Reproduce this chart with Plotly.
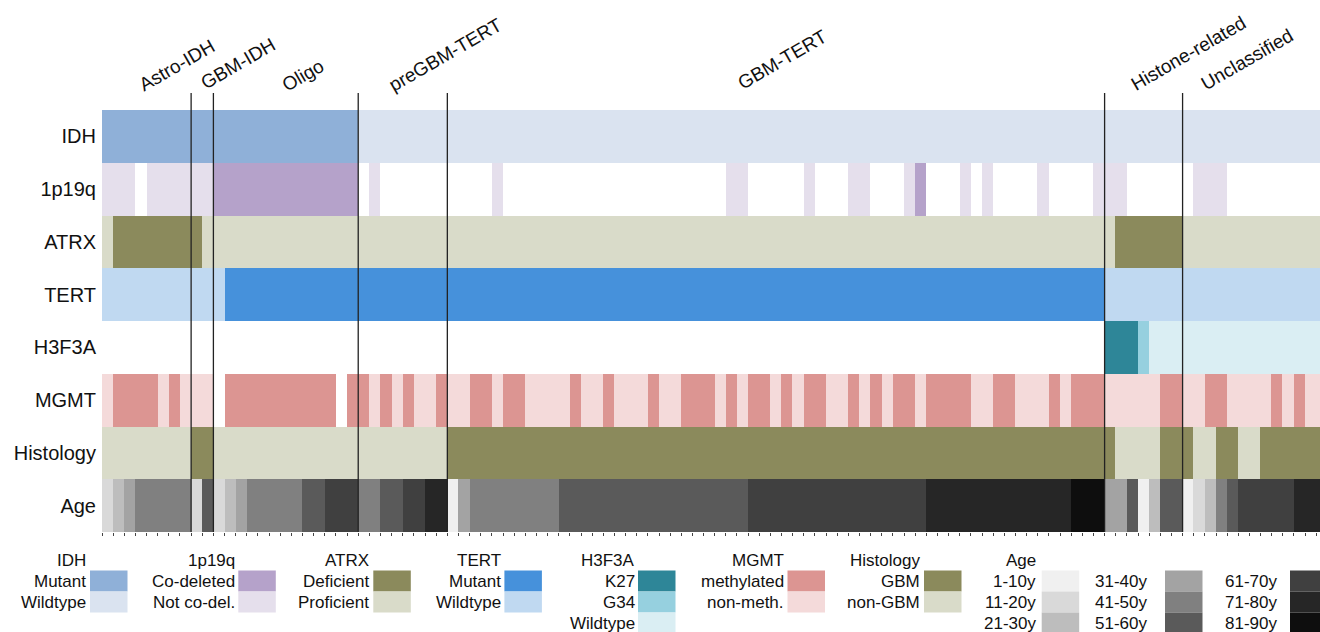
import plotly.graph_objects as go

# ---------------- data ----------------
row_names = ["IDH", "1p19q", "ATRX", "TERT", "H3F3A", "MGMT", "Histology", "Age"]

group_names = ["Astro-IDH", "GBM-IDH", "Oligo", "preGBM-TERT", "GBM-TERT",
               "Histone-related", "Unclassified"]
group_sizes = [8, 2, 13, 8, 59, 7, 13]

# per-row categories, colours and run-length encoded sample states ("_" = no data)
idh_levels = ["Mutant", "Wildtype"]
idh_keys = ["M", "W"]
idh_colors = ["#8FB0D8", "#DAE3F0"]
idh_runs = [("M", 23), ("W", 87)]

codel_levels = ["Co-deleted", "Not co-del."]
codel_keys = ["C", "N"]
codel_colors = ["#B5A2CA", "#E5DFEC"]
codel_runs = [("N", 3), ("_", 1), ("N", 6), ("C", 13), ("_", 1), ("N", 1), ("_", 10),
              ("N", 1), ("_", 20), ("N", 2), ("_", 5), ("N", 1), ("_", 3), ("N", 2),
              ("_", 3), ("N", 1), ("C", 1), ("_", 3), ("N", 1), ("_", 1), ("N", 1),
              ("_", 4), ("N", 1), ("_", 4), ("N", 3), ("_", 6), ("N", 3), ("_", 9)]

atrx_levels = ["Deficient", "Proficient"]
atrx_keys = ["D", "P"]
atrx_colors = ["#8B8A5C", "#D9DBC9"]
atrx_runs = [("P", 1), ("D", 8), ("P", 82), ("D", 6), ("P", 13)]

tert_levels = ["Mutant", "Wildtype"]
tert_keys = ["M", "W"]
tert_colors = ["#4691DB", "#C0D9F1"]
tert_runs = [("W", 11), ("M", 79), ("W", 20)]

h3_levels = ["K27", "G34", "Wildtype"]
h3_keys = ["K", "G", "W"]
h3_colors = ["#2E8698", "#96D0DF", "#DAEEF3"]
h3_runs = [("_", 90), ("K", 3), ("G", 1), ("W", 16)]

mgmt_levels = ["methylated", "non-meth."]
mgmt_keys = ["M", "U"]
mgmt_colors = ["#DC9592", "#F4DADA"]
mgmt_runs = [("U", 1), ("M", 4), ("U", 1), ("M", 1), ("U", 3), ("_", 1), ("M", 10), ("_", 1),
             ("M", 2), ("U", 1), ("M", 1), ("U", 1), ("M", 1), ("U", 2), ("M", 1), ("U", 2),
             ("M", 2), ("U", 1), ("M", 2), ("U", 4), ("M", 1), ("U", 2), ("M", 1), ("U", 3),
             ("M", 1), ("U", 2), ("M", 3), ("U", 1), ("M", 1), ("U", 1), ("M", 2), ("U", 1),
             ("M", 1), ("U", 1), ("M", 2), ("U", 2), ("M", 1), ("U", 1), ("M", 1), ("U", 1),
             ("M", 2), ("U", 1), ("M", 4), ("U", 2), ("M", 2), ("U", 3), ("M", 1), ("U", 1),
             ("M", 3), ("U", 5), ("M", 2), ("U", 2), ("M", 2), ("U", 4), ("M", 1), ("U", 1),
             ("M", 1), ("U", 2)]

hist_levels = ["GBM", "non-GBM"]
hist_keys = ["G", "N"]
hist_colors = ["#8B8A5C", "#D9DBC9"]
hist_runs = [("N", 8), ("G", 2), ("N", 21), ("G", 60), ("N", 4), ("G", 3), ("N", 2),
             ("G", 2), ("N", 2), ("G", 6)]

age_levels = ["1-10y", "11-20y", "21-30y", "31-40y", "41-50y", "51-60y",
              "61-70y", "71-80y", "81-90y"]
age_keys = ["1", "2", "3", "4", "5", "6", "7", "8", "9"]
age_colors = ["#F0F0F0", "#D9D9D9", "#BDBDBD", "#A3A3A3", "#808080", "#5A5A5A",
              "#404040", "#262626", "#0E0E0E"]
age_runs = [("2", 1), ("3", 1), ("4", 1), ("5", 5), ("2", 1), ("6", 1), ("2", 1), ("3", 1),
            ("4", 1), ("5", 5), ("6", 2), ("7", 3), ("5", 2), ("6", 2), ("7", 2), ("8", 2),
            ("1", 1), ("4", 1), ("5", 8), ("6", 17), ("7", 16), ("8", 13), ("9", 3),
            ("4", 2), ("6", 1), ("1", 1), ("3", 1), ("6", 2), ("1", 1), ("2", 1), ("3", 1),
            ("5", 1), ("6", 1), ("7", 5), ("8", 3)]

rows = [
    ("IDH", idh_levels, idh_keys, idh_colors, idh_runs),
    ("1p19q", codel_levels, codel_keys, codel_colors, codel_runs),
    ("ATRX", atrx_levels, atrx_keys, atrx_colors, atrx_runs),
    ("TERT", tert_levels, tert_keys, tert_colors, tert_runs),
    ("H3F3A", h3_levels, h3_keys, h3_colors, h3_runs),
    ("MGMT", mgmt_levels, mgmt_keys, mgmt_colors, mgmt_runs),
    ("Histology", hist_levels, hist_keys, hist_colors, hist_runs),
    ("Age", age_levels, age_keys, age_colors, age_runs),
]

# ---------------- layout geometry ----------------
W, H = 1320, 632
ML, MR, MT, MB = 102, 0, 110, 100
PW, PH = W - ML - MR, H - MT - MB
CELL_PX = 11.14                      # width of one sample column in the reference
FONT = "Liberation Sans, Arial, sans-serif"


def px_x(px):
    return (px - ML) / PW


def px_y(py):
    return (H - MB - py) / PH


# ---------------- build matrix ----------------
n_samples = sum(group_sizes)
all_colors, z, text = [], [], []
for name, levels, keys, colors, runs in rows:
    offset = len(all_colors)
    all_colors.extend(colors)
    zr, tr = [], []
    for key, count in runs:
        for _ in range(count):
            if key == "_":
                zr.append(None)
                tr.append("n/a")
            else:
                k = keys.index(key)
                zr.append(offset + k)
                tr.append(levels[k])
    z.append(zr[:n_samples])
    text.append(tr[:n_samples])

K = len(all_colors)
colorscale = []
for i, c in enumerate(all_colors):
    colorscale.append([i / K, c])
    colorscale.append([(i + 1) / K, c])

fig = go.Figure(go.Heatmap(
    z=z, x=list(range(n_samples)), y=list(range(len(rows))),
    text=text, hovertemplate="%{text}<extra></extra>",
    colorscale=colorscale, zmin=-0.5, zmax=K - 0.5, showscale=False,
))

# group boundaries and labels
group_label_px = [(132.6, 97.6), (194.8, 96.0), (275.8, 98.6), (382.8, 98.0),
                  (731.6, 96.5), (1124.3, 97.5), (1194.8, 97.0)]
shapes, annotations = [], []
start = 0
for gi, (gname, gsize) in enumerate(zip(group_names, group_sizes)):
    if gi > 0:
        shapes.append(dict(type="line", xref="x", yref="paper",
                           x0=start - 0.5, x1=start - 0.5, y0=0, y1=px_y(93),
                           line=dict(color="#222222", width=1.3)))
    lx, ly = group_label_px[gi]
    annotations.append(dict(text=gname, xref="paper", yref="paper", x=px_x(lx), y=px_y(ly),
                            xanchor="left", yanchor="bottom", textangle=-30, showarrow=False,
                            font=dict(family=FONT, size=19, color="#111111")))
    start += gsize

# ---------------- legend (drawn manually) ----------------
SW_W, SW_H = 37.5, 21.0
SW_TOP = 570.5
legend_cols = [
    # title, labels, colors, swatch left px, text right px
    ("IDH", idh_levels, idh_colors, 90.0, 87.3),
    ("1p19q", codel_levels, codel_colors, 238.3, 235.7),
    ("ATRX", atrx_levels, atrx_colors, 373.3, 370.3),
    ("TERT", tert_levels, tert_colors, 504.4, 502.0),
    ("H3F3A", h3_levels, h3_colors, 638.0, 636.3),
    ("MGMT", mgmt_levels, mgmt_colors, 787.5, 785.5),
    ("Histology", hist_levels, hist_colors, 924.0, 920.5),
    ("Age", age_levels[0:3], age_colors[0:3], 1041.7, 1037.0),
    ("", age_levels[3:6], age_colors[3:6], 1165.0, 1147.5),
    ("", age_levels[6:9], age_colors[6:9], 1290.0, 1278.0),
]
for title, labels, colors, sx, tx in legend_cols:
    if title:
        annotations.append(dict(text=title, xref="paper", yref="paper", x=px_x(tx + 1),
                                y=px_y(SW_TOP - 10), xanchor="right", yanchor="middle",
                                showarrow=False, font=dict(family=FONT, size=17, color="#111111")))
    for j, (lab, col) in enumerate(zip(labels, colors)):
        y0 = SW_TOP + j * SW_H
        shapes.append(dict(type="rect", xref="paper", yref="paper",
                           x0=px_x(sx), x1=px_x(sx + SW_W), y0=px_y(y0 + SW_H), y1=px_y(y0),
                           fillcolor=col, line=dict(width=0), layer="above"))
        annotations.append(dict(text=lab, xref="paper", yref="paper", x=px_x(tx + 1),
                                y=px_y(y0 + SW_H / 2), xanchor="right", yanchor="middle",
                                showarrow=False, font=dict(family=FONT, size=17, color="#111111")))

fig.update_layout(
    width=W, height=H, margin=dict(l=ML, r=MR, t=MT, b=MB),
    paper_bgcolor="white", plot_bgcolor="white",
    font=dict(family=FONT, color="#111111"),
    shapes=shapes, annotations=annotations, showlegend=False,
    xaxis=dict(range=[-0.5, -0.5 + PW / CELL_PX], showgrid=False, zeroline=False,
               tickmode="array", tickvals=[i - 0.5 for i in range(n_samples + 1)],
               ticks="outside", ticklen=3, tickwidth=1, tickcolor="#444444",
               showticklabels=False, showline=False),
    yaxis=dict(range=[len(rows) - 0.5, -0.5], showgrid=False, zeroline=False,
               tickmode="array", tickvals=list(range(len(rows))), ticktext=row_names,
               ticks="", ticklabelstandoff=5, tickfont=dict(family=FONT, size=20, color="#111111")),
)

fig.write_html("out.html", config={"displayModeBar": False},
               post_script="document.body.style.margin='0';document.body.style.overflow='hidden';")
